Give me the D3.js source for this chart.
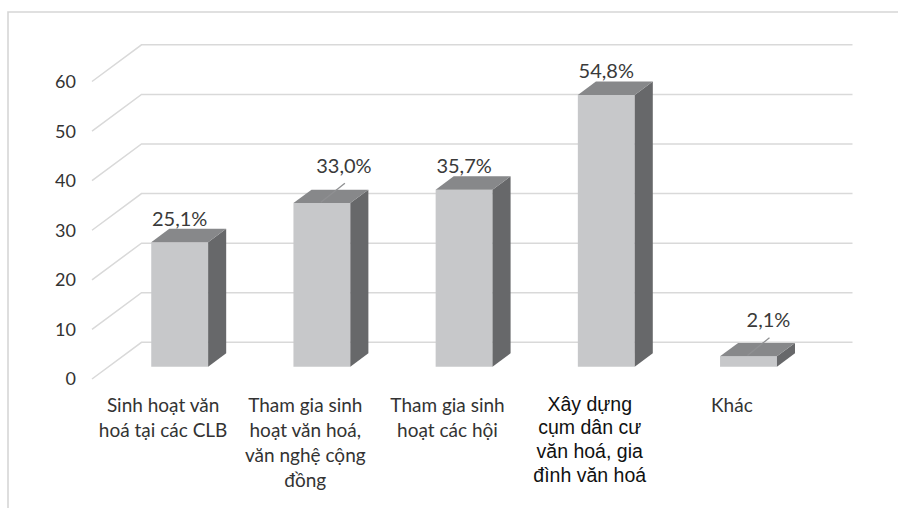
<!DOCTYPE html>
<html>
<head>
<meta charset="utf-8">
<script src="https://cdn.jsdelivr.net/npm/d3@7"></script>
<style>
  html, body { margin: 0; padding: 0; background: #fff; }
  svg { display: block; }
</style>
</head>
<body>
<svg id="chart" width="898" height="508"></svg>
<script>
// ---- data ----
const categories = [
  ["Sinh hoạt văn", "hoá tại các CLB"],
  ["Tham gia sinh", "hoạt văn hoá,", "văn nghệ cộng", "đồng"],
  ["Tham gia sinh", "hoạt các hội"],
  ["Xây dựng", "cụm dân cư", "văn hoá, gia", "đình văn hoá"],
  ["Khác"]
];
const values = [25.1, 33.0, 35.7, 54.8, 2.1];
const valueLabels = ["25,1%", "33,0%", "35,7%", "54,8%", "2,1%"];
const yTicks = [0, 10, 20, 30, 40, 50, 60];

// ---- layout ----
const svg = d3.select("#chart");
const X0 = 92, W = 711;            // front plane
const DX = 49.5, DY = -36.7;       // depth vector
const D1 = 0.335, D2 = 0.70;       // bar depth range

const y = d3.scaleLinear().domain([0, 60]).range([379, 81.5]);
const idx = categories.map((c, i) => i);
const xBand = d3.scaleBand().domain(idx).range([0, W]).paddingInner(0.6).paddingOuter(0.3);
const xPoint = d3.scaleBand().domain(idx).range([0, W]);

const P = (xf, v, d) => [X0 + xf + DX * d, y(v) + DY * d];

// frame
svg.append("path")
  .attr("d", "M8,508 L8,12 L898,12")
  .attr("fill", "none").attr("stroke", "#d6d6d6").attr("stroke-width", 1.6);

// gridlines (back wall + side wall)
const grid = svg.append("g").attr("stroke", "#d9d9d9").attr("stroke-width", 1.5).attr("fill", "none");
yTicks.forEach(t => {
  const a = P(0, t, 0), b = P(0, t, 1), c = P(W, t, 1);
  grid.append("path").attr("d", `M${a[0]},${a[1]} L${b[0]},${b[1]} L${c[0]},${c[1]}`);
});

// y tick labels
svg.append("g").selectAll("text").data(yTicks).join("text")
  .attr("x", d => P(0, d, 0)[0] - 16)
  .attr("y", d => P(0, d, 0)[1])
  .attr("dy", "0.36em")
  .attr("text-anchor", "end")
  .attr("font-family", "Lato, 'Open Sans', sans-serif")
  .attr("font-size", 18)
  .attr("fill", "#333")
  .text(d => d);

// bars
const bars = svg.append("g");
values.forEach((v, i) => {
  const xl = xBand(i), xr = xBand(i) + xBand.bandwidth();
  const fbl = P(xl, 0, D1), fbr = P(xr, 0, D1), ftl = P(xl, v, D1), ftr = P(xr, v, D1);
  const bbr = P(xr, 0, D2), btl = P(xl, v, D2), btr = P(xr, v, D2);
  const g = bars.append("g");
  const poly = pts => "M" + pts.map(p => p.join(",")).join("L") + "Z";
  g.append("path").attr("d", poly([fbl, fbr, ftr, ftl])).attr("fill", "#c7c8ca");
  g.append("path").attr("d", poly([fbr, bbr, btr, ftr])).attr("fill", "#67686a");
  g.append("path").attr("d", poly([ftl, ftr, btr, btl])).attr("fill", "#87888a");
});

// value labels
const leader = { 1: [22, 17], 4: [20, 15.7] };
const labels = svg.append("g");
values.forEach((v, i) => {
  const cx = P(xBand(i) + xBand.bandwidth() / 2, v, D1);
  const backTop = P(0, v, D2)[1];
  let lx = cx[0], ly = backTop - 3.2;
  if (leader[i]) {
    lx = cx[0] + leader[i][0];
    ly = backTop - leader[i][1];
    labels.append("line")
      .attr("x1", cx[0] - 1).attr("y1", cx[1] - 0.8)
      .attr("x2", lx + 1).attr("y2", ly + 10.5)
      .attr("stroke", "#8f9092").attr("stroke-width", 1.3);
  }
  labels.append("text")
    .attr("x", lx).attr("y", ly)
    .attr("text-anchor", "middle")
    .attr("font-family", "Lato, 'Open Sans', sans-serif")
    .attr("font-size", 20)
    .attr("fill", "#3a3a3a")
    .text(valueLabels[i]);
});

// category labels
const cat = svg.append("g");
categories.forEach((lines, i) => {
  const cx = X0 + xPoint(i) + xPoint.bandwidth() / 2;
  const special = i === 3;
  const t = cat.append("text")
    .attr("text-anchor", "middle")
    .attr("font-family", special ? "'Liberation Sans', Arial, sans-serif" : "Lato, 'Open Sans', sans-serif")
    .attr("font-size", special ? 19.5 : 19)
    .attr("fill", special ? "#111" : "#333");
  lines.forEach((ln, k) => {
    t.append("tspan").attr("x", cx)
      .attr("y", (special ? 410.7 : 411.5) + k * (special ? 23.7 : 25))
      .text(ln);
  });
});
</script>
</body>
</html>
